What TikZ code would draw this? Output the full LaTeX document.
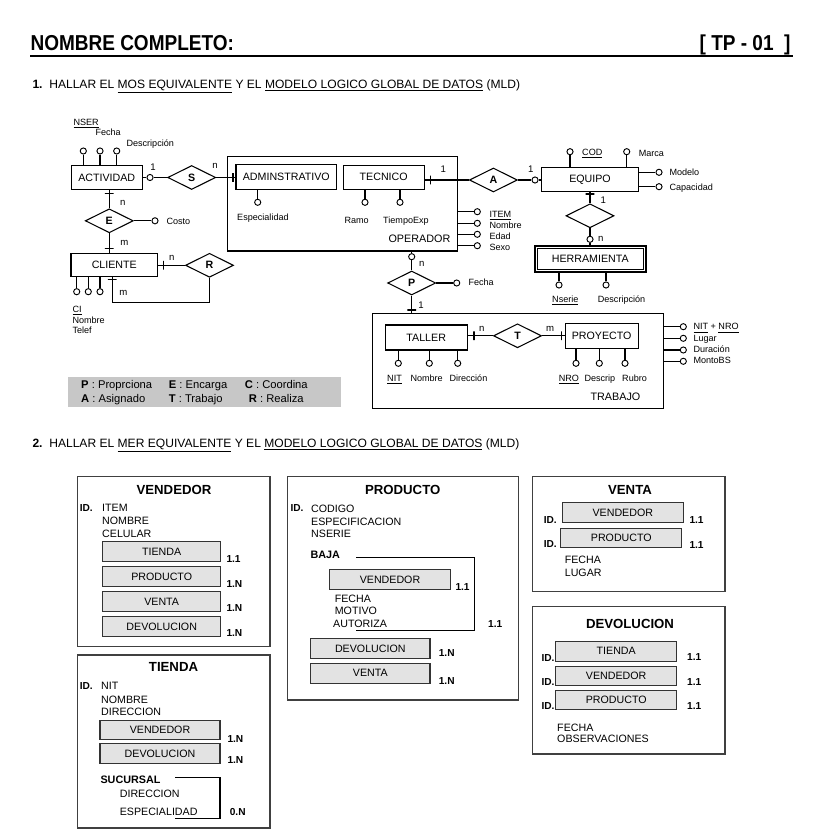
\documentclass[tikz,border=0pt]{standalone}
\usepackage{fontspec}
\setmainfont{Liberation Sans}
\newfontfamily\narrowfont[FakeStretch=0.88]{Liberation Sans}
\usetikzlibrary{shapes.geometric}

\begin{document}
\begin{tikzpicture}[
        x=0.75pt, y=-0.75pt, line width=0.8pt,
        ent/.style={draw, inner sep=0, font=\fontsize{8}{9}\selectfont},
        rel/.style={diamond, draw, inner sep=0, minimum width=36pt, minimum height=18pt, font=\fontsize{8}{9}\selectfont\bfseries},
        att/.style={circle, draw, fill=white, line width=0.7pt, inner sep=0, minimum size=4.6pt},
        txt/.style={inner sep=0, text depth=0pt},
        atxt/.style={txt, anchor=west, text height=4.9pt, font=\fontsize{6.8}{8}\selectfont},
        card/.style={txt, text height=5.2pt, font=\fontsize{7.2}{8}\selectfont},
        vtk/.style={draw, inner sep=0, minimum width=0pt, minimum height=6.5pt},
        htk/.style={draw, inner sep=0, minimum width=6.5pt, minimum height=0pt},
        tbl/.style={draw=black!75, line width=1pt, inner sep=0},
        ttl/.style={txt, text height=7.1pt, font=\fontsize{9.9}{11}\selectfont\bfseries},
        mtxt/.style={txt, anchor=west, text height=5.75pt, font=\fontsize{8}{9.5}\selectfont},
        fk/.style={draw=black!80, fill=black!11, inner sep=0, minimum width=90pt, minimum height=14.8pt, font=\fontsize{8}{9}\selectfont},
        mult/.style={txt, anchor=west, text height=5.5pt, font=\fontsize{7.6}{9}\selectfont\bfseries},
        lgd/.style={txt, anchor=west, text height=6.05pt, font=\fontsize{8.4}{10}\selectfont},
    ]
    \useasboundingbox (0,0) rectangle (817,837);

    % cabecera
    \node[txt, anchor=west, text height=11.7pt, font=\narrowfont\fontsize{16.2}{18}\selectfont\bfseries] (nombre) at (30,43) {NOMBRE COMPLETO:};
    \node[txt, anchor=east, text height=11.7pt, font=\narrowfont\fontsize{16.2}{18}\selectfont\bfseries] (tp) at (791,43) {[ TP - 01 \ ]};
    \draw[line width=1.2pt] (30,56) -- (793,56);
    \node[txt, anchor=west, text height=6.5pt, font=\fontsize{9.05}{10}\selectfont] (preg1) at (32,84)
        {\textbf{1.}\ \ HALLAR EL \underline{MOS EQUIVALENTE} Y EL \underline{MODELO LOGICO GLOBAL DE DATOS} (MLD)};

    % ACTIVIDAD
    \node[ent, minimum width=53.5pt, minimum height=18pt] (act) at (106.7,177.5) {ACTIVIDAD};
    \node[att] (act1) at (83.3,151) {};
    \node[att] (act2) at (100,151) {};
    \node[att] (act3) at (116.7,151) {};
    \draw (act1.south) -- (act1.south |- act.north);
    \draw (act2.south) -- (act2.south |- act.north);
    \draw (act3.south) -- (act3.south |- act.north);
    \node[atxt] (tnser) at (73,122) {\underline{NSER}};
    \node[atxt] (tfecha) at (95,132) {Fecha};
    \node[atxt] (tdesc) at (126,143) {Descripción};

    % S
    \node[att] (cs) at (150,177.5) {};
    \node[rel] (rs) at (191.7,177.5) {S};
    \node[ent, minimum width=75.5pt, minimum height=18.75pt] (adm) at (286.3,177) {ADMINSTRATIVO};
    \draw (act.east) -- (cs.west);
    \draw (cs.east) -- (rs.west);
    \draw (rs.east) -- (rs.east -| adm.west);
    \node[vtk] (ks) at (233,177.5) {};
    \node[card] (cs1) at (153,167) {1};
    \node[card] (csn) at (215,165) {n};

    % OPERADOR
    \node[ent, minimum width=172.8pt, minimum height=70.7pt] (oper) at (342.5,203.85) {};
    \node[txt, anchor=west, text height=5.8pt, font=\fontsize{8.1}{9}\selectfont] (toper) at (388,238.3) {OPERADOR};
    \node[att] (adm1) at (257.7,202.3) {};
    \draw (adm1.north) -- (adm1.north |- adm.south);
    \node[atxt] (tesp) at (236.7,217.3) {Especialidad};
    \node[ent, minimum width=60.5pt, minimum height=18.2pt] (tec) at (383.7,177.2) {TECNICO};
    \node[att] (tec1) at (365,202.3) {};
    \node[att] (tec2) at (400,202.3) {};
    \draw (tec1.north) -- (tec1.north |- tec.south);
    \draw (tec2.north) -- (tec2.north |- tec.south);
    \node[atxt] (tramo) at (344,220) {Ramo};
    \node[atxt] (ttiempo) at (382.7,220) {TiempoExp};
    \node[att] (op1) at (477.3,211.7) {};
    \node[att] (op2) at (477.3,223.3) {};
    \node[att] (op3) at (477.3,234.3) {};
    \node[att] (op4) at (477.3,245.7) {};
    \draw (op1.west -| oper.east) -- (op1.west);
    \draw (op2.west -| oper.east) -- (op2.west);
    \draw (op3.west -| oper.east) -- (op3.west);
    \draw (op4.west -| oper.east) -- (op4.west);
    \node[atxt] (titem) at (489,214) {\underline{ITEM}};
    \node[atxt] (tnom) at (489,225) {Nombre};
    \node[atxt] (tedad) at (489,236) {Edad};
    \node[atxt] (tsexo) at (489,247) {Sexo};

    % A
    \node[rel] (ra) at (493.4,180) {A};
    \draw (ra.west) -- (ra.west -| tec.east);
    \node[vtk] (ka) at (430.7,180) {};
    \node[card] (ca1) at (443.3,169.3) {1};
    \node[att] (ce) at (535,180) {};
    \node[ent, minimum width=72.5pt, minimum height=18.3pt] (equ) at (590,179.5) {EQUIPO};
    \draw (ra.east) -- (ce.west);
    \draw (ce.east) -- (ce.east -| equ.west);
    \node[card] (ca2) at (530.7,169.3) {1};
    \node[att] (eq1) at (570,151.7) {};
    \node[att] (eq2) at (626.7,151.7) {};
    \draw (eq1.south) -- (eq1.south |- equ.north);
    \draw (eq2.south) -- (eq2.south |- equ.north);
    \node[atxt] (tcod) at (581.7,152) {\underline{COD}};
    \node[atxt] (tmarca) at (638.3,153) {Marca};
    \node[att] (eq3) at (659,172.3) {};
    \node[att] (eq4) at (659,186.7) {};
    \draw (eq3.west -| equ.east) -- (eq3.west);
    \draw (eq4.west -| equ.east) -- (eq4.west);
    \node[atxt] (tmod) at (669,172) {Modelo};
    \node[atxt] (tcap) at (669,187) {Capacidad};

    % HERRAMIENTA
    \node[rel] (rh) at (590,215.8) {};
    \draw (equ.south) -- (rh.north);
    \node[htk] (kh) at (590,194) {};
    \node[card] (ch1) at (603.3,200) {1};
    \node[att] (ch) at (590,239.3) {};
    \node[ent, line width=1.4pt, minimum width=83pt, minimum height=19.3pt] (herr) at (590.3,258.85) {HERRAMIENTA};
    \draw[line width=0.6pt] ([shift={(3.2,3.2)}]herr.north west) rectangle ([shift={(-3.2,-3.2)}]herr.south east);
    \draw (rh.south) -- (ch.north);
    \draw (ch.south) -- (ch.south |- herr.north);
    \node[card] (chn) at (600.7,238.3) {n};
    \node[att] (he1) at (559,285) {};
    \node[att] (he2) at (606,285) {};
    \draw (he1.north) -- (he1.north |- herr.south);
    \draw (he2.north) -- (he2.north |- herr.south);
    \node[atxt] (tnserie) at (551.7,299.3) {\underline{Nserie}};
    \node[atxt] (tdesc2) at (597.3,299.3) {Descripción};

    % P
    \node[att] (cp) at (411.7,256.7) {};
    \node[rel] (rp) at (411.7,283) {P};
    \draw (cp.north |- oper.south) -- (cp.north);
    \draw (cp.south) -- (rp.north);
    \node[card] (cpn) at (421.7,263.3) {n};
    \node[att] (cpf) at (456.7,283) {};
    \draw (rp.east) -- (cpf.west);
    \node[atxt] (tpf) at (468,282.5) {Fecha};

    % TRABAJO
    \node[ent, minimum width=218pt, minimum height=71.25pt] (trab) at (518,360.8) {};
    \node[txt, anchor=west, text height=5.8pt, font=\fontsize{8.1}{9}\selectfont] (ttrab) at (590,396.7) {TRABAJO};
    \draw (rp.south) -- (rp.south |- trab.north);
    \node[htk] (kp) at (411.7,310) {};
    \node[card] (cp1) at (421,305) {1};
    \node[ent, minimum width=61.7pt, minimum height=18.75pt] (tal) at (426.2,337.5) {TALLER};
    \node[rel] (rt) at (517.5,335.8) {T};
    \node[ent, minimum width=55pt, minimum height=18.75pt] (pro) at (601.7,335.8) {PROYECTO};
    \draw (rt.west) -- (rt.west -| tal.east);
    \draw (rt.east) -- (rt.east -| pro.west);
    \node[vtk] (kt1) at (474,335.8) {};
    \node[vtk] (kt2) at (561.7,335.8) {};
    \node[card] (ctn) at (481.7,328.3) {n};
    \node[card] (ctm) at (550,328.3) {m};
    \node[att] (ta1) at (398.3,363.3) {};
    \node[att] (ta2) at (429.3,363.3) {};
    \node[att] (ta3) at (457.7,363.3) {};
    \draw (ta1.north) -- (ta1.north |- tal.south);
    \draw (ta2.north) -- (ta2.north |- tal.south);
    \draw (ta3.north) -- (ta3.north |- tal.south);
    \node[atxt] (tnit) at (386.7,378.3) {\underline{NIT}};
    \node[atxt] (tnomt) at (410,378.3) {Nombre};
    \node[atxt] (tdir) at (449,378.3) {Dirección};
    \node[att] (pr1) at (576,363.3) {};
    \node[att] (pr2) at (599.3,363.3) {};
    \node[att] (pr3) at (625,363.3) {};
    \draw (pr1.north) -- (pr1.north |- pro.south);
    \draw (pr2.north) -- (pr2.north |- pro.south);
    \draw (pr3.north) -- (pr3.north |- pro.south);
    \node[atxt] (tnro) at (558.3,378.3) {\underline{NRO}};
    \node[atxt] (tdescr) at (584,378.3) {Descrip};
    \node[atxt] (trubro) at (621.7,378.3) {Rubro};
    \node[att] (tr1) at (683.3,326.7) {};
    \node[att] (tr2) at (683.3,338.3) {};
    \node[att] (tr3) at (683.3,350) {};
    \node[att] (tr4) at (683.3,361.3) {};
    \draw (tr1.west -| trab.east) -- (tr1.west);
    \draw (tr2.west -| trab.east) -- (tr2.west);
    \draw (tr3.west -| trab.east) -- (tr3.west);
    \draw (tr4.west -| trab.east) -- (tr4.west);
    \node[atxt] (tnitnro) at (693,326.7) {\underline{NIT} + \underline{NRO}};
    \node[atxt] (tlugar) at (693,338) {Lugar};
    \node[atxt] (tdur) at (693,349.3) {Duración};
    \node[atxt] (tmonto) at (693,360.7) {MontoBS};

    % E y CLIENTE
    \node[rel] (re) at (109.3,220.8) {E};
    \node[ent, minimum width=65pt, minimum height=17.5pt] (cli) at (114.3,265) {CLIENTE};
    \draw (re.north) -- (re.north |- act.south);
    \draw (re.south) -- (re.south |- cli.north);
    \node[htk] (ke1) at (109.3,193.3) {};
    \node[htk] (ke2) at (109.3,248.3) {};
    \node[card] (cen) at (122.7,201.7) {n};
    \node[card] (cem) at (124.3,241.7) {m};
    \node[att] (cc) at (155,220.8) {};
    \draw (re.east) -- (cc.west);
    \node[atxt] (tcosto) at (166,221) {Costo};
    \node[att] (cl1) at (76.7,291.7) {};
    \node[att] (cl2) at (88.3,291.7) {};
    \node[att] (cl3) at (100,291.7) {};
    \draw (cl1.north) -- (cl1.north |- cli.south);
    \draw (cl2.north) -- (cl2.north |- cli.south);
    \draw (cl3.north) -- (cl3.north |- cli.south);
    \node[atxt] (tci) at (72,309) {\underline{CI}};
    \node[atxt] (tnomc) at (72,320) {Nombre};
    \node[atxt] (ttel) at (72,330) {Telef};

    % R
    \node[rel] (rr) at (209.5,265.3) {R};
    \draw (rr.west) -- (rr.west -| cli.east);
    \node[vtk] (kr1) at (163.3,265.3) {};
    \node[card] (crn) at (171.7,256.7) {n};
    \coordinate (rlazo) at (112.3,302.3);
    \draw (rr.south) |- (rlazo) -- (rlazo |- cli.south);
    \node[htk] (kr2) at (112.3,279.3) {};
    \node[card] (crm) at (123.3,291.7) {m};

    % leyenda
    \node[fill=black!22, inner sep=0, minimum width=204.5pt, minimum height=22pt] (leyenda) at (204.7,392) {};
    \node[lgd] (lp) at (80.7,384.3) {\textbf{P} : Proprciona};
    \node[lgd] (le) at (168.3,384.3) {\textbf{E} : Encarga};
    \node[lgd] (lc) at (244.3,384.3) {\textbf{C} : Coordina};
    \node[lgd] (la) at (80.7,398.3) {\textbf{A} : Asignado};
    \node[lgd] (lt) at (168.3,398.3) {\textbf{T} : Trabajo};
    \node[lgd] (lr) at (248.3,398.3) {\textbf{R} : Realiza};

    \node[txt, anchor=west, text height=6.5pt, font=\fontsize{9.05}{10}\selectfont] (preg2) at (32,443)
        {\textbf{2.}\ \ HALLAR EL \underline{MER EQUIVALENTE} Y EL \underline{MODELO LOGICO GLOBAL DE DATOS} (MLD)};

    % VENDEDOR
    \node[tbl, minimum width=144.5pt, minimum height=127.5pt] (bven) at (173.65,561.7) {};
    \node[ttl] (tven) at (174,490) {VENDEDOR};
    \node[mult] (vid) at (79.3,507.7) {ID.};
    \node[mtxt] (vitem) at (101.7,507.7) {ITEM};
    \node[mtxt] (vnom) at (101.7,521) {NOMBRE};
    \node[mtxt] (vcel) at (101.7,533.3) {CELULAR};
    \node[fk, minimum width=88.5pt] (vtie) at (161.7,551.7) {TIENDA};
    \node[fk, minimum width=88.5pt] (vpro) at (161.7,576.7) {PRODUCTO};
    \node[fk, minimum width=88.5pt] (vvta) at (161.7,601.7) {VENTA};
    \node[fk, minimum width=88.5pt] (vdev) at (161.7,626.7) {DEVOLUCION};
    \node[mult] (vm1) at (226,558.5) {1.1};
    \node[mult] (vm2) at (226,583.5) {1.N};
    \node[mult] (vm3) at (226,608) {1.N};
    \node[mult] (vm4) at (226,633) {1.N};

    % TIENDA
    \node[tbl, minimum width=144.5pt, minimum height=129.75pt] (btie) at (173.65,741.5) {};
    \node[ttl] (ttie) at (173.5,667) {TIENDA};
    \node[mult] (tid) at (79.3,686) {ID.};
    \node[mtxt] (tnit2) at (100.7,686) {NIT};
    \node[mtxt] (tnom2) at (100.7,700) {NOMBRE};
    \node[mtxt] (tdir2) at (100.7,711.7) {DIRECCION};
    \node[fk] (tven2) at (160,730) {VENDEDOR};
    \node[fk] (tdev2) at (160,753.8) {DEVOLUCION};
    \node[mult] (tm1) at (227,738.5) {1.N};
    \node[mult] (tm2) at (227,760) {1.N};
    \node[mult, text height=5.8pt, font=\fontsize{8.1}{9}\selectfont\bfseries] (tsuc) at (100,780) {SUCURSAL};
    \draw[line width=0.9pt] (175,777.7) -| (220,818.3) -- (175,818.3);
    \node[mtxt] (tsdir) at (119.3,793.3) {DIRECCION};
    \node[mtxt] (tsesp) at (119.3,811.7) {ESPECIALIDAD};
    \node[mult] (tm3) at (229.3,811.7) {0.N};

    % PRODUCTO
    \node[tbl, minimum width=173.25pt, minimum height=167.5pt] (bpro) at (402.8,588.35) {};
    \node[ttl] (tpro) at (402.7,489.5) {PRODUCTO};
    \node[mult] (pid) at (290,508.3) {ID.};
    \node[mtxt] (pcod) at (310.7,508.3) {CODIGO};
    \node[mtxt] (pesp) at (310.7,521.7) {ESPECIFICACION};
    \node[mtxt] (pnse) at (310.7,533.3) {NSERIE};
    \node[mult, text height=5.8pt, font=\fontsize{8.1}{9}\selectfont\bfseries] (pbaja) at (310,555) {BAJA};
    \draw[line width=0.9pt] (356,557.3) -| (474.3,630.7) -- (356,630.7);
    \node[fk, minimum width=91pt] (pven) at (390,579.7) {VENDEDOR};
    \node[mult] (pm1) at (455,587) {1.1};
    \node[mtxt] (pfec) at (334.3,598.3) {FECHA};
    \node[mtxt] (pmot) at (334.3,611) {MOTIVO};
    \node[mtxt] (paut) at (332.7,623.5) {AUTORIZA};
    \node[mult] (pm2) at (487.7,624) {1.1};
    \node[fk, minimum width=89.5pt] (pdev) at (370.3,648.8) {DEVOLUCION};
    \node[fk, minimum width=89.5pt] (pvta) at (370.3,673.3) {VENTA};
    \node[mult] (pm3) at (438.3,653.3) {1.N};
    \node[mult] (pm4) at (438.3,680.7) {1.N};

    % VENTA
    \node[tbl, minimum width=144.5pt, minimum height=86.25pt] (bvta) at (628.65,534.2) {};
    \node[ttl] (tvta) at (630,489.5) {VENTA};
    \node[fk, minimum width=90.75pt] (aven) at (622.8,512.7) {VENDEDOR};
    \node[fk, minimum width=90.75pt] (apro) at (621.3,538) {PRODUCTO};
    \node[mult] (aid1) at (543.3,519.5) {ID.};
    \node[mult] (aid2) at (543.3,544) {ID.};
    \node[mult] (am1) at (689,520) {1.1};
    \node[mult] (am2) at (689,544.5) {1.1};
    \node[mtxt] (afec) at (564.3,560) {FECHA};
    \node[mtxt] (alug) at (564.3,572.3) {LUGAR};

    % DEVOLUCION
    \node[tbl, minimum width=144.5pt, minimum height=110.5pt] (bdev) at (628.65,680.35) {};
    \node[ttl] (tdev) at (630,623.3) {DEVOLUCION};
    \node[fk, minimum width=90.75pt] (dtie) at (616.2,651.2) {TIENDA};
    \node[fk, minimum width=90.75pt] (dven) at (616.2,676) {VENDEDOR};
    \node[fk, minimum width=90.75pt] (dpro) at (616.2,700) {PRODUCTO};
    \node[mult] (did1) at (541,657.5) {ID.};
    \node[mult] (did2) at (541,682) {ID.};
    \node[mult] (did3) at (541,706) {ID.};
    \node[mult] (dm1) at (686.7,657.3) {1.1};
    \node[mult] (dm2) at (686.7,682) {1.1};
    \node[mult] (dm3) at (686.7,706) {1.1};
    \node[mtxt] (dfec) at (556.7,727.3) {FECHA};
    \node[mtxt] (dobs) at (556.7,738.5) {OBSERVACIONES};
\end{tikzpicture}
\end{document}
